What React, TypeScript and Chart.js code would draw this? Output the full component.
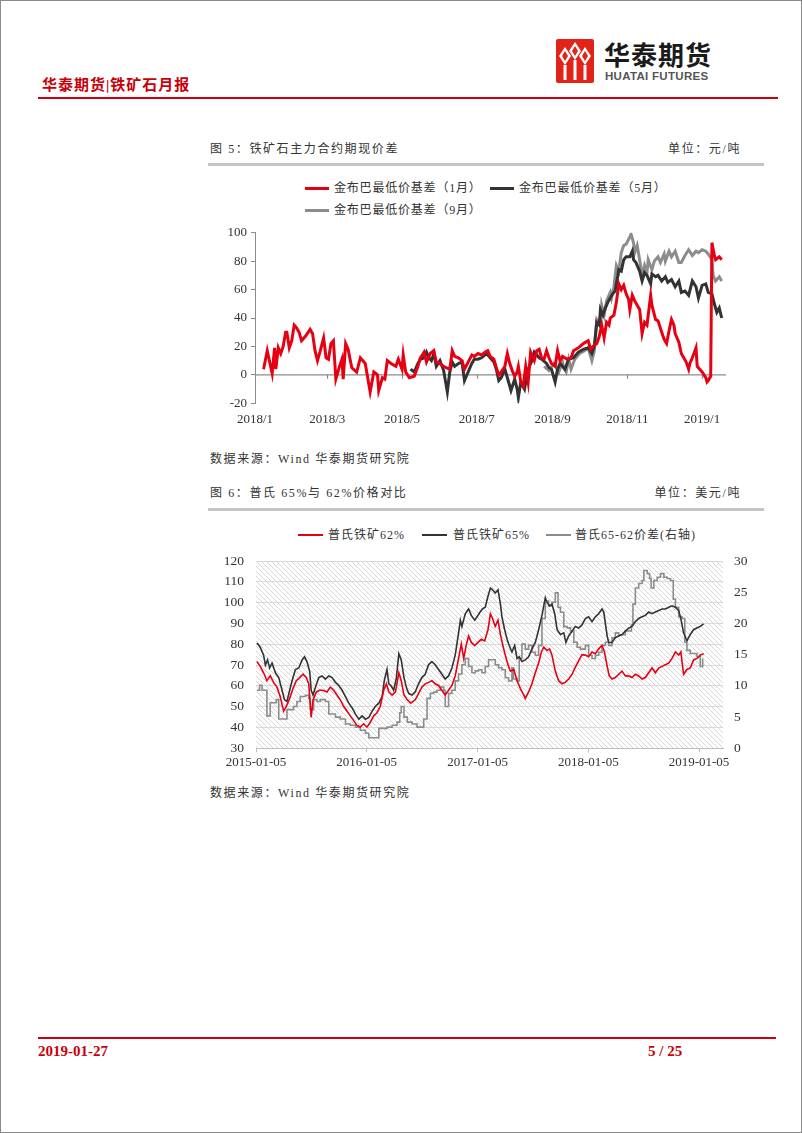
import React, { useEffect, useRef } from "react";
import { Chart, registerables } from "chart.js";

Chart.register(...registerables);

const SERIF = '"Liberation Serif", "Noto Sans CJK SC", serif';
const CJK = '"Liberation Serif", "Noto Sans CJK SC", sans-serif';

// ---------- Figure 5: basis (days since 2018-01-01) ----------
const basisTickDays = [0, 59, 120, 181, 243, 304, 365];
const basisTickLabels = ["2018/1", "2018/3", "2018/5", "2018/7", "2018/9", "2018/11", "2019/1"];

const janDays = [
  7, 10, 14, 16, 17, 19, 21, 23, 25, 26,
  28, 30, 32, 34, 36, 38, 41, 45, 47, 49,
  51, 53, 56, 58, 60, 62, 64, 66, 69, 71,
  72, 74, 76, 79, 83, 86, 90, 94, 97, 100,
  101, 104, 106, 108, 111, 115, 117, 120, 121, 123,
  126, 130, 133, 135, 138, 140, 143, 146, 148, 151,
  154, 156, 159, 161, 163, 166, 169, 171, 174, 177,
  179, 182, 185, 188, 190, 192, 195, 197, 199, 201,
  204, 206, 208, 210, 212, 214, 215, 217, 219, 221,
  223, 225, 228, 230, 232, 234, 236, 238, 240, 242,
  245, 247, 249, 251, 255, 258, 260, 264, 268, 272,
  274, 276, 279, 281, 283, 285, 287, 289, 290, 293,
  295, 297, 299, 301, 303, 305, 306, 308, 310, 312,
  314, 316, 318, 320, 323, 324, 327, 329, 332, 334,
  336, 338, 340, 342, 343, 346, 348, 350, 352, 354,
  355, 357, 360, 361, 363, 365, 368, 369, 370, 372,
  373, 375, 376, 379, 381,
];
const janBasis = [
  4, 17, 1, 19, 4, 19, 15, 20, 30, 30,
  19, 24, 35, 33, 30, 24, 27, 32, 29, 17,
  10, 16, 26, 12, 11, 22, 24, -3, 6, 11,
  -3, 22, 18, 5, 2, 12, 8, -12, 2, 0,
  -11, -2, -3, 10, 8, 6, 11, 4, 14, 2,
  -2, -1, 6, 12, 16, 9, 15, 17, 9, 8,
  6, 5, 4, 17, 13, 12, 10, 4, 9, 14,
  13, 15, 14, 16, 17, 13, 11, 5, 0, 2,
  6, 15, 8, 3, -1, 2, 6, -5, -8, 6,
  -5, 16, 10, 17, 18, 12, 11, 17, 12, 8,
  6, 17, 10, 13, 11, 12, 17, 19, 22, 24,
  18, 20, 22, 27, 35, 26, 37, 35, 40, 42,
  51, 64, 60, 63, 57, 53, 46, 56, 52, 49,
  46, 29, 37, 35, 56, 49, 39, 38, 30, 25,
  22, 31, 39, 35, 29, 23, 15, 12, 9, 4,
  8, 12, 19, 6, 4, 2, -2, -5, -4, -1,
  93, 84, 81, 83, 81,
];

const mayDays = [
  127, 130, 133, 135, 138, 140, 142, 144, 146, 148,
  151, 154, 157, 159, 161, 163, 166, 169, 171, 174,
  177, 179, 182, 185, 189, 192, 195, 197, 199, 201,
  204, 207, 209, 212, 214, 215, 217, 220, 223, 226,
  228, 232, 234, 238, 240, 242, 245, 247, 249, 251,
  253, 256, 260, 264, 268, 272, 275, 277, 279, 281,
  282, 284, 286, 288, 290, 292, 294, 297, 299, 301,
  303, 306, 308, 309, 311, 314, 316, 318, 320, 323,
  324, 327, 329, 332, 335, 337, 340, 343, 346, 348,
  351, 354, 357, 360, 362, 365, 368, 370, 373, 375,
  377, 379, 381,
];
const mayBasis = [
  4, 2, 8, 11, 12, 16, 12, 10, 15, 6,
  10, 3, -12, 2, 9, 6, 8, 9, -4, 2,
  8, 11, 11, 12, 15, 12, 9, 4, -4, -2,
  4, -5, -11, -3, -10, -16, -5, -10, 4, 10,
  16, 12, 11, 8, 5, 4, -5, 4, 8, 6,
  4, 11, 12, 16, 18, 19, 15, 20, 37, 35,
  46, 42, 47, 51, 54, 57, 59, 74, 73, 81,
  83, 83, 87, 81, 79, 73, 66, 72, 70, 64,
  71, 69, 70, 66, 69, 65, 67, 62, 66, 58,
  59, 56, 66, 62, 54, 63, 64, 58, 57, 50,
  44, 47, 40,
];

const sepDays = [
  236, 240, 244, 248, 251, 252, 254, 256, 258, 261,
  265, 269, 272, 275, 277, 279, 282, 283, 285, 287,
  290, 291, 293, 295, 297, 299, 301, 303, 306, 307,
  309, 310, 312, 314, 316, 318, 320, 321, 324, 326,
  329, 331, 334, 335, 338, 340, 343, 346, 348, 351,
  354, 357, 360, 362, 365, 368, 370, 373, 374, 376,
  379, 381,
];
const sepBasis = [
  6, 3, 8, 2, 9, 5, 2, 11, 4, 11,
  15, 17, 19, 10, 17, 39, 35, 49, 42, 52,
  58, 54, 62, 77, 73, 86, 91, 92, 97, 99,
  93, 86, 91, 81, 70, 77, 72, 81, 74, 80,
  83, 79, 85, 80, 87, 83, 87, 79, 79, 84,
  88, 84, 87, 86, 88, 87, 85, 81, 70, 66,
  69, 66,
];

// ---------- Figure 6: Platts prices (days since 2015-01-05) ----------
const plattsTickDays = [0, 365, 731, 1096, 1461];
const plattsTickLabels = ["2015-01-05", "2016-01-05", "2017-01-05", "2018-01-05", "2019-01-05"];

const p62Days = [
  3, 14, 25, 36, 47, 58, 69, 80, 91, 100,
  111, 122, 133, 144, 155, 166, 174, 182, 188, 199,
  210, 221, 234, 245, 256, 267, 278, 289, 300, 311,
  322, 333, 344, 355, 366, 377, 388, 399, 410, 421,
  430, 438, 449, 460, 471, 479, 488, 499, 510, 525,
  536, 547, 558, 569, 580, 591, 602, 613, 624, 635,
  646, 657, 668, 677, 685, 693, 701, 710, 721, 732,
  743, 754, 765, 773, 780, 789, 798, 806, 814, 822,
  831, 839, 850, 861, 872, 883, 888, 899, 910, 921,
  932, 941, 949, 960, 968, 976, 987, 998, 1009, 1020,
  1031, 1042, 1053, 1064, 1075, 1086, 1097, 1108, 1119, 1130,
  1141, 1149, 1158, 1165, 1174, 1185, 1196, 1207, 1218, 1229,
  1240, 1251, 1262, 1273, 1284, 1295, 1306, 1317, 1328, 1339,
  1350, 1361, 1372, 1383, 1394, 1401, 1410, 1421, 1432, 1443,
  1454, 1465, 1476,
];
const p62Price = [
  71.7, 69.4, 66.3, 62.5, 64.8, 61.7, 59.4, 54.8, 47.9, 50.2,
  54, 58.7, 62.5, 64, 65.6, 64, 61, 44.8, 53.3, 57.1,
  57.9, 57.9, 57.1, 59.4, 57.9, 55.6, 53.3, 50.2, 47.9, 45.6,
  43.3, 41, 40.2, 41.8, 40.2, 42.5, 45.6, 47.1, 50.2, 57.9,
  61, 57.1, 55.6, 57.1, 66.3, 62.5, 55.6, 53.3, 51.7, 53.3,
  56.3, 59.4, 61, 61.7, 62.5, 61, 60.2, 57.9, 55.6, 57.9,
  60.2, 64.8, 73.2, 80.1, 73.2, 79.4, 84, 80.9, 79.4, 80.9,
  82.4, 81.6, 87, 94.7, 92.4, 88.6, 91.6, 84.7, 79.4, 74.8,
  70.2, 67.1, 67.9, 62.5, 58.7, 55.6, 54, 57.1, 61, 66.3,
  71, 76.3, 78.6, 77, 77.8, 74.8, 67.1, 62.5, 61, 61.7,
  63.3, 65.5, 69, 72, 75, 74.8, 74, 76.3, 75.5, 77.8,
  79.4, 76.3, 69.4, 64.8, 63.3, 64, 65.6, 67.1, 64.8, 64.8,
  64, 65.6, 64.8, 63.3, 64, 66.3, 68.6, 66.3, 68.6, 69.4,
  70.2, 70.9, 73.2, 76.3, 74.8, 76.3, 65.6, 67.9, 68.6, 72.5,
  73.2, 74.8, 75.5,
];

const p65Days = [
  3, 14, 25, 31, 38, 45, 53, 64, 75, 86,
  94, 102, 111, 119, 130, 141, 152, 160, 168, 177,
  182, 188, 196, 207, 218, 229, 240, 251, 262, 273,
  284, 295, 306, 317, 328, 339, 350, 361, 372, 383,
  394, 405, 416, 423, 432, 438, 445, 454, 463, 471,
  479, 488, 497, 504, 515, 525, 536, 547, 558, 569,
  580, 591, 602, 613, 624, 635, 646, 657, 668, 674,
  679, 690, 701, 710, 721, 729, 739, 747, 756, 765,
  773, 780, 789, 798, 806, 811, 820, 828, 835, 844,
  853, 861, 868, 877, 888, 899, 910, 921, 932, 943,
  954, 960, 968, 976, 985, 993, 1004, 1015, 1022, 1031,
  1042, 1053, 1064, 1075, 1086, 1097, 1108, 1119, 1130, 1141,
  1147, 1152, 1158, 1163, 1174, 1185, 1196, 1207, 1218, 1229,
  1240, 1251, 1262, 1273, 1284, 1295, 1306, 1317, 1328, 1339,
  1350, 1361, 1372, 1383, 1394, 1402, 1410, 1421, 1432, 1443,
  1454, 1465, 1476,
];
const p65Price = [
  80.6, 78.6, 74.8, 70, 72.5, 68.6, 71, 66.3, 64, 57.9,
  53.3, 52.5, 57.9, 62.5, 67.9, 68.6, 72.5, 74, 71.7, 67,
  57.9, 55.6, 59.4, 64, 64.8, 63.3, 64.8, 64, 61.7, 60.2,
  57.9, 54.8, 51.7, 49.4, 46.4, 44, 45.6, 44, 44.8, 47.9,
  50.2, 51.7, 54.8, 62.5, 67.9, 61, 60.2, 57.9, 64, 75.5,
  72.5, 64, 58.7, 56.3, 55.6, 57.1, 61, 64, 65.6, 70.2,
  71.7, 70.2, 67.9, 65.6, 63.3, 64.8, 68.6, 74.8, 85.5, 91.6,
  88.6, 94.7, 97, 93.9, 91.6, 93.2, 95.5, 97, 97.8, 103.1,
  107, 106.2, 104.7, 106.2, 99.3, 93.2, 87, 82.4, 79.4, 76.3,
  79.4, 73.2, 74, 71.7, 72.5, 74, 77.8, 80.9, 87, 93.9,
  102.4, 100, 98.5, 99.3, 94.7, 87, 84.7, 85.5, 80.9, 84,
  86.3, 88.6, 87.8, 89.3, 92.4, 93.2, 90.9, 93.2, 94.7, 97,
  95.5, 90.1, 84, 80.9, 80.9, 83.2, 84, 84.7, 86.3, 87.8,
  88.6, 90.9, 92.4, 93.2, 93.9, 95.5, 94.7, 95.5, 96.2, 97,
  97, 97.8, 98.5, 97.8, 96.2, 91.6, 85.5, 81.7, 84.7, 87,
  87.8, 88.6, 89.8,
];

const spreadDays = [
  3, 12, 20, 31, 36, 47, 58, 67, 75, 91,
  102, 113, 124, 135, 146, 163, 174, 179, 190, 201,
  212, 229, 240, 251, 262, 278, 295, 311, 328, 344,
  361, 372, 388, 405, 416, 432, 449, 465, 474, 479,
  488, 499, 515, 531, 542, 553, 564, 575, 586, 597,
  608, 619, 624, 635, 646, 657, 668, 679, 690, 701,
  712, 723, 734, 745, 756, 767, 778, 789, 800, 811,
  822, 833, 844, 849, 861, 868, 877, 888, 899, 910,
  921, 932, 943, 954, 965, 976, 987, 996, 1004, 1015,
  1026, 1037, 1048, 1059, 1070, 1086, 1097, 1108, 1119, 1130,
  1141, 1152, 1163, 1174, 1185, 1196, 1207, 1218, 1229, 1238,
  1243, 1251, 1262, 1273, 1279, 1290, 1298, 1303, 1312, 1323,
  1334, 1345, 1356, 1367, 1376, 1383, 1394, 1405, 1414, 1421,
  1432, 1443, 1454, 1465, 1473,
];
const spreadValue = [
  9.3, 10.1, 9.3, 9.3, 5.2, 7.3, 7.3, 7.8, 4.7, 4.7,
  6.2, 6.2, 6.7, 7.5, 8.3, 8.5, 8, 6.2, 7.8, 7.5,
  7.8, 7.5, 5.5, 5.5, 5, 4.7, 3.9, 3.7, 3.4, 2.9,
  2.4, 1.7, 1.7, 3.2, 3.2, 3.4, 3.7, 4.2, 5.7, 6.7,
  5, 4.2, 3.9, 3.4, 3.4, 4.7, 8, 8.8, 9, 9.3,
  9.8, 9.3, 6.7, 8.8, 9.3, 10.8, 11.9, 13.4, 14.4, 13.1,
  12.1, 12.4, 12.6, 12.1, 13.1, 14.2, 14.2, 13.4, 12.9, 12.6,
  11.3, 10.8, 12.9, 11.1, 10.8, 14.4, 16.7, 15.9, 16.5, 15.4,
  14.9, 16.5, 20.8, 23.6, 22.8, 23.4, 24.9, 22.6, 21.8, 19.5,
  19.3, 18.8, 17, 16.2, 15.9, 16.5, 14.9, 14.4, 14.9, 15.4,
  16.5, 17, 16.5, 17.7, 18.5, 18.2, 18.2, 18.8, 18.8, 19.8,
  23.1, 25.7, 26.4, 26.9, 28.5, 28, 27.2, 25.7, 26.9, 27.4,
  28, 27.4, 27.2, 26.9, 23.9, 22.6, 21.1, 20.8, 17, 15.7,
  15.2, 15.2, 14.7, 13.1, 14.4,
];

const RED = "#e60012";
const BLACK = "#333333";
const GRAY = "#8c8c8c";

const pts = (xs: number[], ys: number[]) => xs.map((x, i) => ({ x, y: ys[i] }));

const zeroLinePlugin = {
  id: "zeroLine",
  beforeDatasetsDraw(chart: any) {
    const { ctx, chartArea, scales } = chart;
    const y = scales.y.getPixelForValue(0);
    ctx.save();
    ctx.strokeStyle = "#8c8c8c";
    ctx.lineWidth = 1.2;
    ctx.beginPath();
    ctx.moveTo(chartArea.left, y);
    ctx.lineTo(chartArea.right, y);
    basisTickDays.slice(1).forEach((d) => {
      const x = Math.round(scales.x.getPixelForValue(d)) + 0.5;
      ctx.moveTo(x, y);
      ctx.lineTo(x, y + 4);
    });
    ctx.stroke();
    ctx.restore();
  },
};

const hatchPlugin = {
  id: "hatch",
  beforeDraw(chart: any) {
    const { ctx, chartArea } = chart;
    const s = 5;
    const tile = document.createElement("canvas");
    tile.width = s;
    tile.height = s;
    const t = tile.getContext("2d")!;
    t.fillStyle = "#ffffff";
    t.fillRect(0, 0, s, s);
    t.strokeStyle = "#d6d6d6";
    t.lineWidth = 1;
    for (let k = -1; k <= 1; k++) {
      t.beginPath();
      t.moveTo(-1, -1 + s * k);
      t.lineTo(s + 1, s + 1 + s * k);
      t.stroke();
    }
    const pat = ctx.createPattern(tile, "repeat");
    ctx.save();
    ctx.fillStyle = pat;
    ctx.fillRect(chartArea.left, chartArea.top, chartArea.right - chartArea.left, chartArea.bottom - chartArea.top);
    ctx.restore();
  },
};

function BasisChart() {
  const ref = useRef<HTMLCanvasElement>(null);
  useEffect(() => {
    const chart = new Chart(ref.current!, {
      type: "line",
      data: {
        datasets: [
          { label: "金布巴最低价基差（1月）", data: pts(janDays, janBasis), borderColor: RED, borderWidth: 3, pointRadius: 0, tension: 0 },
          { label: "金布巴最低价基差（5月）", data: pts(mayDays, mayBasis), borderColor: BLACK, borderWidth: 3, pointRadius: 0, tension: 0 },
          { label: "金布巴最低价基差（9月）", data: pts(sepDays, sepBasis), borderColor: GRAY, borderWidth: 3, pointRadius: 0, tension: 0 },
        ],
      },
      options: {
        animation: false,
        responsive: false,
        maintainAspectRatio: false,
        layout: { padding: { top: 16.7, right: 35, left: 0, bottom: 0 } },
        plugins: { legend: { display: false }, tooltip: { enabled: false } },
        scales: {
          x: {
            type: "linear",
            min: 0,
            max: 384.5,
            afterBuildTicks: (s: any) => {
              s.ticks = basisTickDays.map((v) => ({ value: v }));
            },
            afterFit: (s: any) => {
              s.height = 27.7;
            },
            ticks: {
              autoSkip: false,
              maxRotation: 0,
              padding: 8,
              color: "#333",
              font: { family: SERIF, size: 13 },
              callback: (v: any) => basisTickLabels[basisTickDays.indexOf(Number(v))] ?? "",
            },
            grid: { display: false, drawTicks: false },
            border: { display: false },
          },
          y: {
            min: -20,
            max: 100,
            afterFit: (s: any) => {
              s.width = 54;
            },
            ticks: { stepSize: 10, padding: 4, color: "#333", font: { family: SERIF, size: 13 } },
            grid: { drawOnChartArea: false, tickLength: 4, color: "#8c8c8c" },
            border: { display: true, color: "#8c8c8c", width: 1 },
          },
        },
      },
      plugins: [zeroLinePlugin],
    } as any);
    return () => chart.destroy();
  }, []);
  return (
    <canvas
      ref={ref}
      width={560}
      height={215}
      style={{ position: "absolute", left: 200, top: 215, width: 560, height: 215 }}
    />
  );
}

function PlattsChart() {
  const ref = useRef<HTMLCanvasElement>(null);
  useEffect(() => {
    const chart = new Chart(ref.current!, {
      type: "line",
      data: {
        datasets: [
          { label: "普氏铁矿62%", data: pts(p62Days, p62Price), yAxisID: "y", borderColor: RED, borderWidth: 1.6, pointRadius: 0, tension: 0 },
          { label: "普氏铁矿65%", data: pts(p65Days, p65Price), yAxisID: "y", borderColor: BLACK, borderWidth: 1.6, pointRadius: 0, tension: 0 },
          { label: "普氏65-62价差(右轴)", data: pts(spreadDays, spreadValue), yAxisID: "y1", borderColor: GRAY, borderWidth: 1.6, pointRadius: 0, stepped: true },
        ],
      },
      options: {
        animation: false,
        responsive: false,
        maintainAspectRatio: false,
        layout: { padding: { top: 11.7, right: 0, left: 0, bottom: 0 } },
        plugins: { legend: { display: false }, tooltip: { enabled: false } },
        scales: {
          x: {
            type: "linear",
            min: 0,
            max: 1540,
            afterBuildTicks: (s: any) => {
              s.ticks = plattsTickDays.map((v) => ({ value: v }));
            },
            afterFit: (s: any) => {
              s.height = 27.7;
            },
            ticks: {
              autoSkip: false,
              maxRotation: 0,
              padding: 2,
              color: "#333",
              font: { family: SERIF, size: 13 },
              callback: (v: any) => plattsTickLabels[plattsTickDays.indexOf(Number(v))] ?? "",
            },
            grid: { drawOnChartArea: false, tickLength: 4, color: "#bfbfbf" },
            border: { display: true, color: "#bfbfbf", width: 1 },
          },
          y: {
            position: "left",
            min: 30,
            max: 120,
            afterFit: (s: any) => {
              s.width = 55;
            },
            ticks: { stepSize: 10, padding: 12, color: "#333", font: { family: SERIF, size: 13.5 } },
            grid: { color: "#d9d9d9", lineWidth: 1, drawTicks: false },
            border: { display: false },
          },
          y1: {
            position: "right",
            min: 0,
            max: 30,
            afterFit: (s: any) => {
              s.width = 38;
            },
            ticks: { stepSize: 5, padding: 11, color: "#333", font: { family: SERIF, size: 13.5 } },
            grid: { display: false, drawTicks: false, drawOnChartArea: false },
            border: { display: false },
          },
        },
      },
      plugins: [hatchPlugin],
    } as any);
    return () => chart.destroy();
  }, []);
  return (
    <canvas
      ref={ref}
      width={560}
      height={235}
      style={{ position: "absolute", left: 200, top: 540, width: 560, height: 235 }}
    />
  );
}

function Text(props: { x?: number; right?: number; y: number; size: number; color?: string; bold?: boolean; spacing?: number; family?: string; children: React.ReactNode }) {
  const { x, right, y, size, color = "#333", bold, spacing = 0, family = CJK, children } = props;
  const style: React.CSSProperties = {
    position: "absolute",
    top: y - 10,
    height: 20,
    lineHeight: "20px",
    fontSize: size,
    color,
    fontWeight: bold ? 700 : 400,
    letterSpacing: spacing,
    fontFamily: family,
    whiteSpace: "nowrap",
  };
  if (x !== undefined) style.left = x;
  if (right !== undefined) style.right = right;
  return <div style={style}>{children}</div>;
}

function Swatch(props: { x: number; y: number; w: number; h: number; color: string }) {
  return (
    <div
      style={{
        position: "absolute",
        left: props.x,
        top: props.y - props.h / 2,
        width: props.w,
        height: props.h,
        background: props.color,
      }}
    />
  );
}

function Logo() {
  return (
    <svg width={38} height={44} viewBox="0 0 38 44" style={{ position: "absolute", left: 555, top: 38 }}>
      <rect x={0} y={0} width={38} height={44} rx={2} fill="#e2231a" />
      <polygon points="9,8 15,17 9,26 3,17" fill="#fff" />
      <polygon points="19,3 25,12 19,21 13,12" fill="#fff" />
      <polygon points="29,8 35,17 29,26 23,17" fill="#fff" />
      <polygon points="9,12 12,17 9,22 6,17" fill="#e2231a" />
      <polygon points="19,7 22,12 19,17 16,12" fill="#e2231a" />
      <polygon points="29,12 32,17 29,22 26,17" fill="#e2231a" />
      <rect x={7.5} y={26} width={3} height={15} fill="#fff" />
      <rect x={17.5} y={21} width={3} height={20} fill="#fff" />
      <rect x={27.5} y={26} width={3} height={15} fill="#fff" />
    </svg>
  );
}

export default function App() {
  return (
    <div
      style={{
        position: "absolute",
        left: 0,
        top: 0,
        width: 802,
        height: 1133,
        background: "#fff",
        border: "1px solid #8a8a8a",
        boxSizing: "border-box",
        overflow: "hidden",
      }}
    >
      {/* Header */}
      <Logo />
      <Text x={603} y={53} size={26} color="#1a1a1a" bold family='"Noto Sans CJK SC", sans-serif' spacing={1}>
        华泰期货
      </Text>
      <Text x={604} y={75} size={11.5} color="#555" bold family='"Liberation Sans", Arial, sans-serif' spacing={0.3}>
        HUATAI FUTURES
      </Text>
      <Text x={41} y={84} size={15} color="#c8000a" bold spacing={1}>
        华泰期货|铁矿石月报
      </Text>
      <div style={{ position: "absolute", left: 37, top: 96, width: 740, height: 2, background: "#c8000a" }} />

      {/* Figure 5 */}
      <Text x={209} y={148} size={12} spacing={1.6}>
        图 5：铁矿石主力合约期现价差
      </Text>
      <Text right={60} y={148} size={12} spacing={1.6}>
        单位：元/吨
      </Text>
      <div style={{ position: "absolute", left: 207, top: 162, width: 556, height: 3, background: "#c4c4c4" }} />

      <Swatch x={304} y={187} w={24} h={3} color={RED} />
      <Text x={333} y={187} size={12} spacing={0.8}>
        金布巴最低价基差（1月）
      </Text>
      <Swatch x={489} y={187} w={24} h={3} color={BLACK} />
      <Text x={518} y={187} size={12} spacing={0.8}>
        金布巴最低价基差（5月）
      </Text>
      <Swatch x={304} y={209} w={24} h={3} color={GRAY} />
      <Text x={333} y={209} size={12} spacing={0.8}>
        金布巴最低价基差（9月）
      </Text>

      <BasisChart />

      <Text x={209} y={458} size={12} spacing={1.6}>
        数据来源：Wind 华泰期货研究院
      </Text>

      {/* Figure 6 */}
      <Text x={209} y={492} size={12} spacing={1.6}>
        图 6：普氏 65%与 62%价格对比
      </Text>
      <Text right={60} y={492} size={12} spacing={1.6}>
        单位：美元/吨
      </Text>
      <div style={{ position: "absolute", left: 207, top: 507, width: 556, height: 3, background: "#c4c4c4" }} />

      <Swatch x={297} y={534} w={25} h={2} color={RED} />
      <Text x={327} y={534} size={12} spacing={1}>
        普氏铁矿62%
      </Text>
      <Swatch x={421} y={534} w={25} h={2} color={BLACK} />
      <Text x={452} y={534} size={12} spacing={1}>
        普氏铁矿65%
      </Text>
      <Swatch x={545} y={534} w={25} h={2} color={GRAY} />
      <Text x={574} y={534} size={12} spacing={1}>
        普氏65-62价差(右轴)
      </Text>

      <PlattsChart />

      <Text x={209} y={792} size={12} spacing={1.6}>
        数据来源：Wind 华泰期货研究院
      </Text>

      {/* Footer */}
      <div style={{ position: "absolute", left: 37, top: 1036, width: 738, height: 2, background: "#c8000a" }} />
      <Text x={37} y={1050} size={15} color="#c8000a" bold family='"Liberation Serif", serif'>
        2019-01-27
      </Text>
      <Text x={647} y={1050} size={15} color="#c8000a" bold family='"Liberation Serif", serif'>
        5 / 25
      </Text>
    </div>
  );
}
